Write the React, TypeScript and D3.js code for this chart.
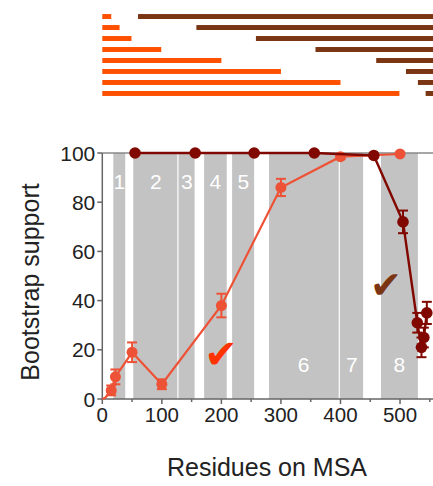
import React from "react";
import * as d3 from "d3";

const orangeX = [5, 15, 22, 50, 100, 200, 300, 400, 500];
const orangeY = [0.5, 3.5, 9, 19, 6, 38, 86, 98.5, 99.6];
const orangeErr = [0.5, 2, 3, 4, 2, 4.8, 3.5, 1, 0.5];

const brownX = [55, 156, 255, 356, 456, 505, 529, 536, 540, 545];
const brownY = [100, 100, 100, 100, 99, 72, 31, 21, 25, 35];
const brownErr = [0, 0, 0, 0, 0, 4.6, 4, 4, 4, 4.5];

const orangeEnds = [15, 29, 49, 99, 200, 300, 400, 499];
const brownStarts = [60, 158, 258, 358, 460, 510, 530, 543];

const bandStarts = [18.5, 52, 128, 171, 218, 280, 399, 468];
const bandEnds = [38.5, 126, 155, 209, 255, 397, 438, 530];
const bandLabels = ["1", "2", "3", "4", "5", "6", "7", "8"];
const bandLabelX = [28.5, 90, 142, 190, 237, 338, 419, 499];
const bandLabelLow = [false, false, false, false, false, true, true, true];

const xTicks = [0, 100, 200, 300, 400, 500];
const xMinor = [50, 150, 250, 350, 450, 550];
const yTicks = [0, 20, 40, 60, 80, 100];

const FONT = "'Liberation Sans', Arial, sans-serif";

export default function App() {
  const x = d3.scaleLinear().domain([0, 550]).range([102.3, 429.8]);
  const y = d3.scaleLinear().domain([0, 100]).range([399, 153]);
  const rows = d3.scaleBand<number>().domain(d3.range(8)).range([8, 102]).padding(0.55);

  const line = d3
    .line<[number, number]>()
    .x((d) => x(d[0]))
    .y((d) => y(d[1]));

  const orangePts: [number, number][] = orangeX.map((v, i) => [v, orangeY[i]]);
  const brownPts: [number, number][] = brownX.map((v, i) => [v, brownY[i]]);
  const orangeLine: [number, number][] = [[0, 0], ...orangePts];

  const orangeC = "#EE5236";
  const brownC = "#800800";

  const errBars = (xs: number[], ys: number[], es: number[], color: string) =>
    xs.map((xv, i) =>
      es[i] > 0.8 ? (
        <g key={i} stroke={color} strokeWidth={2}>
          <line x1={x(xv)} x2={x(xv)} y1={y(ys[i] - es[i])} y2={y(ys[i] + es[i])} />
          <line x1={x(xv) - 5} x2={x(xv) + 5} y1={y(ys[i] - es[i])} y2={y(ys[i] - es[i])} />
          <line x1={x(xv) - 5} x2={x(xv) + 5} y1={y(ys[i] + es[i])} y2={y(ys[i] + es[i])} />
        </g>
      ) : null
    );

  return (
    <svg
      width={433}
      height={486}
      style={{ position: "absolute", left: 0, top: 0, background: "#fff" }}
      fontFamily={FONT}
    >
      {/* top range bars */}
      {orangeEnds.map((e, i) => (
        <rect
          key={"o" + i}
          x={x(0)}
          y={rows(i)!}
          width={x(e) - x(0)}
          height={rows.bandwidth()}
          fill="#FF5000"
        />
      ))}
      {brownStarts.map((s, i) => (
        <rect
          key={"b" + i}
          x={x(s)}
          y={rows(i)!}
          width={x(570) - x(s)}
          height={rows.bandwidth()}
          fill="#7A3512"
        />
      ))}

      {/* gray bands */}
      {bandStarts.map((s, i) => (
        <rect
          key={"band" + i}
          x={x(s)}
          y={y(100)}
          width={x(bandEnds[i]) - x(s)}
          height={y(0) - y(100)}
          fill="#C3C3C3"
        />
      ))}
      {bandLabels.map((l, i) => (
        <text
          key={"bl" + i}
          x={x(bandLabelX[i])}
          y={bandLabelLow[i] ? 372 : 189}
          textAnchor="middle"
          fill="#fff"
          fontSize={21}
        >
          {l}
        </text>
      ))}

      {/* top border */}
      <line x1={x(0)} x2={433} y1={y(100)} y2={y(100)} stroke="#888" strokeWidth={1.5} />

      {/* axes */}
      <line x1={x(0)} x2={x(0)} y1={y(100)} y2={y(0)} stroke="#666" strokeWidth={1.5} />
      <line x1={x(0)} x2={433} y1={y(0)} y2={y(0)} stroke="#666" strokeWidth={1.5} />
      {yTicks.map((t) => (
        <g key={"yt" + t}>
          <line x1={x(0) - 5} x2={x(0)} y1={y(t)} y2={y(t)} stroke="#666" strokeWidth={1.5} />
          <text x={x(0) - 7} y={y(t) + 7.5} textAnchor="end" fontSize={21} fill="#222">
            {t}
          </text>
        </g>
      ))}
      {xTicks.map((t) => (
        <g key={"xt" + t}>
          <line x1={x(t)} x2={x(t)} y1={y(0)} y2={y(0) + 5} stroke="#666" strokeWidth={1.5} />
          <text x={x(t)} y={y(0) + 23} textAnchor="middle" fontSize={20.5} fill="#222">
            {t}
          </text>
        </g>
      ))}
      {xMinor.map((t) => (
        <line key={"xm" + t} x1={x(t)} x2={x(t)} y1={y(0)} y2={y(0) + 3} stroke="#666" strokeWidth={1.5} />
      ))}

      {/* orange series */}
      <path d={line(orangeLine)!} fill="none" stroke={orangeC} strokeWidth={2.2} />
      {errBars(orangeX, orangeY, orangeErr, orangeC)}
      {orangePts.map((p, i) => (
        <circle key={"op" + i} cx={x(p[0])} cy={y(p[1])} r={i === 0 ? 0 : 5.5} fill={orangeC} />
      ))}

      {/* brown series */}
      <path d={line(brownPts)!} fill="none" stroke={brownC} strokeWidth={2.4} />
      {errBars(brownX, brownY, brownErr, brownC)}
      {brownPts.map((p, i) => (
        <circle key={"bp" + i} cx={x(p[0])} cy={y(p[1])} r={5.8} fill={brownC} />
      ))}

      {/* check marks */}
      <text x={221} y={368} textAnchor="middle" fontSize={40} fill="#FF3300" fontFamily="'DejaVu Sans'" fontStyle="italic">
        ✔
      </text>
      <text x={386} y={298} textAnchor="middle" fontSize={38} fill="#7B3512" fontFamily="'DejaVu Sans'" fontStyle="italic">
        ✔
      </text>

      {/* axis titles */}
      <text
        transform={`translate(39, ${(y(0) + y(100)) / 2 + 6}) rotate(-90)`}
        textAnchor="middle"
        fontSize={25}
        fill="#222"
      >
        Bootstrap support
      </text>
      <text x={267} y={476} textAnchor="middle" fontSize={25} fill="#222">
        Residues on MSA
      </text>
    </svg>
  );
}
